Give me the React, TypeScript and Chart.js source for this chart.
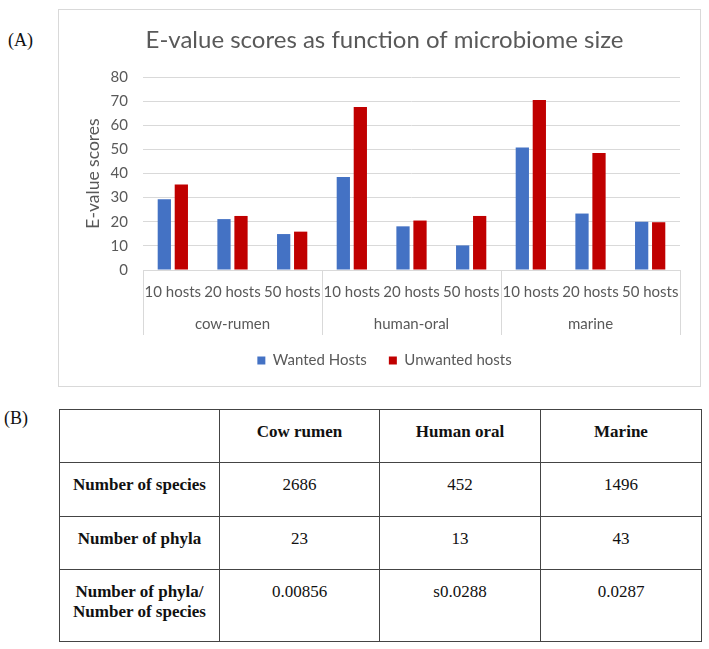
import React, { useEffect, useRef } from "react";
import { Chart, registerables } from "chart.js";

Chart.register(...registerables);

// ---------- Chart (A) data ----------
const chartTitle = "E-value scores as function of microbiome size";
const yAxisTitle = "E-value scores";
const hostLabels = [
  "10 hosts", "20 hosts", "50 hosts",
  "10 hosts", "20 hosts", "50 hosts",
  "10 hosts", "20 hosts", "50 hosts",
];
const groupLabels = ["cow-rumen", "human-oral", "marine"];
const seriesNames = ["Wanted Hosts", "Unwanted hosts"];
const wantedHosts = [29.3, 21.1, 14.9, 38.5, 18.1, 10.2, 50.8, 23.4, 20.0];
const unwantedHosts = [35.4, 22.4, 15.9, 67.6, 20.5, 22.4, 70.5, 48.5, 19.8];
const yMin = 0;
const yMax = 80;
const yStep = 10;

// ---------- Table (B) data ----------
const tableHeaders = ["", "Cow rumen", "Human oral", "Marine"];
const rowLabels = [["Number of species"], ["Number of phyla"], ["Number of phyla/", "Number of species"]];
const speciesCounts = ["2686", "452", "1496"];
const phylaCounts = ["23", "13", "43"];
const phylaPerSpecies = ["0.00856", "s0.0288", "0.0287"];

const GRAY_TEXT = "#595959";
const GRID = "#d9d9d9";
const BLUE = "#4472C4";
const RED = "#C00000";
const FONT = "Lato";

function BarChart() {
  const ref = useRef<HTMLCanvasElement>(null);
  useEffect(() => {
    if (!ref.current) return;
    const chart = new Chart(ref.current, {
      type: "bar",
      data: {
        labels: hostLabels,
        datasets: [
          { label: seriesNames[0], data: wantedHosts, backgroundColor: BLUE, borderWidth: 0, xAxisID: "x", yAxisID: "y" },
          { label: seriesNames[1], data: unwantedHosts, backgroundColor: RED, borderWidth: 0, xAxisID: "x", yAxisID: "y" },
        ],
      },
      options: {
        animation: false,
        responsive: false,
        devicePixelRatio: 1,
        datasets: { bar: { categoryPercentage: 0.57, barPercentage: 0.78 } },
        layout: { padding: { top: 0, left: 30, right: 20, bottom: 8 } },
        plugins: {
          title: {
            display: true,
            text: chartTitle,
            color: GRAY_TEXT,
            font: { family: FONT, size: 24, weight: "normal" },
            padding: { top: 15.6, bottom: 22.6 },
          },
          legend: {
            position: "bottom",
            labels: {
              boxWidth: 8,
              boxHeight: 8,
              padding: 22,
              color: GRAY_TEXT,
              font: { family: FONT, size: 15 },
            },
          },
          tooltip: { enabled: false },
        },
        scales: {
          y: {
            min: yMin,
            max: yMax,
            ticks: { stepSize: yStep, padding: 15, color: GRAY_TEXT, font: { family: FONT, size: 15 } },
            grid: { color: GRID, drawTicks: false, lineWidth: 1 },
            border: { display: false },
            title: {
              display: true,
              text: yAxisTitle,
              color: GRAY_TEXT,
              font: { family: FONT, size: 17.5 },
              padding: { top: -6, bottom: 0 },
            },
            afterFit: (scale: any) => { scale.width = 54; },
          },
          x: {
            type: "category",
            position: "bottom",
            offset: true,
            weight: 0,
            grid: {
              offset: true,
              drawOnChartArea: false,
              drawTicks: true,
              tickLength: 34,
              color: (ctx: any) => (ctx.index === undefined || ctx.index % 3 === 0 ? GRID : "rgba(0,0,0,0)"),
            },
            border: { display: true, color: GRID, width: 1 },
            ticks: {
              padding: -21,
              autoSkip: false,
              maxRotation: 0,
              minRotation: 0,
              color: GRAY_TEXT,
              font: { family: FONT, size: 15 },
            },
            afterFit: (scale: any) => { scale.height = 32; },
          },
          x2: {
            type: "category",
            labels: groupLabels,
            position: "bottom",
            offset: true,
            weight: 1,
            grid: {
              offset: true,
              drawOnChartArea: false,
              drawTicks: true,
              tickLength: 33,
              color: GRID,
            },
            border: { display: false },
            ticks: {
              padding: -20,
              autoSkip: false,
              maxRotation: 0,
              minRotation: 0,
              color: GRAY_TEXT,
              font: { family: FONT, size: 15 },
            },
            afterFit: (scale: any) => { scale.height = 29; },
          },
        },
      } as any,
    });
    return () => chart.destroy();
  }, []);
  return <canvas ref={ref} width={641} height={376} style={{ display: "block" }} />;
}

const cellBase: React.CSSProperties = {
  boxSizing: "border-box",
  borderRight: "1px solid #444",
  borderBottom: "1px solid #444",
  textAlign: "center",
  paddingTop: 12,
  lineHeight: "20px",
  color: "#111",
};

const colWidths = [160, 160, 161, 161];
const rowHeights = [53, 54, 53, 72];

function DataTable() {
  const rows: { label: string[]; values: string[] }[] = [
    { label: rowLabels[0], values: speciesCounts },
    { label: rowLabels[1], values: phylaCounts },
    { label: rowLabels[2], values: phylaPerSpecies },
  ];
  return (
    <div
      style={{
        position: "absolute",
        left: 59,
        top: 409,
        borderTop: "1px solid #444",
        borderLeft: "1px solid #444",
        fontFamily: "'Liberation Serif', 'Times New Roman', serif",
      }}
    >
      <div style={{ display: "flex" }}>
        {tableHeaders.map((h, i) => (
          <div
            key={i}
            style={{ ...cellBase, width: colWidths[i], height: rowHeights[0], fontWeight: "bold", fontSize: 17 }}
          >
            {h}
          </div>
        ))}
      </div>
      {rows.map((r, ri) => (
        <div key={ri} style={{ display: "flex" }}>
          <div
            style={{ ...cellBase, width: colWidths[0], height: rowHeights[ri + 1], fontWeight: "bold", fontSize: 17 }}
          >
            {r.label.map((t, k) => (
              <div key={k}>{t}</div>
            ))}
          </div>
          {r.values.map((v, ci) => (
            <div key={ci} style={{ ...cellBase, width: colWidths[ci + 1], height: rowHeights[ri + 1], fontSize: 17 }}>
              {v}
            </div>
          ))}
        </div>
      ))}
    </div>
  );
}

export default function App() {
  return (
    <div
      style={{
        position: "absolute",
        left: 0,
        top: 0,
        width: 709,
        height: 649,
        background: "#fff",
        fontFamily: "'Liberation Serif', 'Times New Roman', serif",
      }}
    >
      <div style={{ position: "absolute", left: 8, top: 29, fontSize: 18, lineHeight: "22px", color: "#111" }}>(A)</div>
      <div
        style={{
          position: "absolute",
          left: 58,
          top: 9,
          width: 643,
          height: 378,
          boxSizing: "border-box",
          border: "1px solid #d9d9d9",
        }}
      >
        <BarChart />
      </div>
      <div style={{ position: "absolute", left: 4, top: 407, fontSize: 18, lineHeight: "22px", color: "#111" }}>(B)</div>
      <DataTable />
    </div>
  );
}
